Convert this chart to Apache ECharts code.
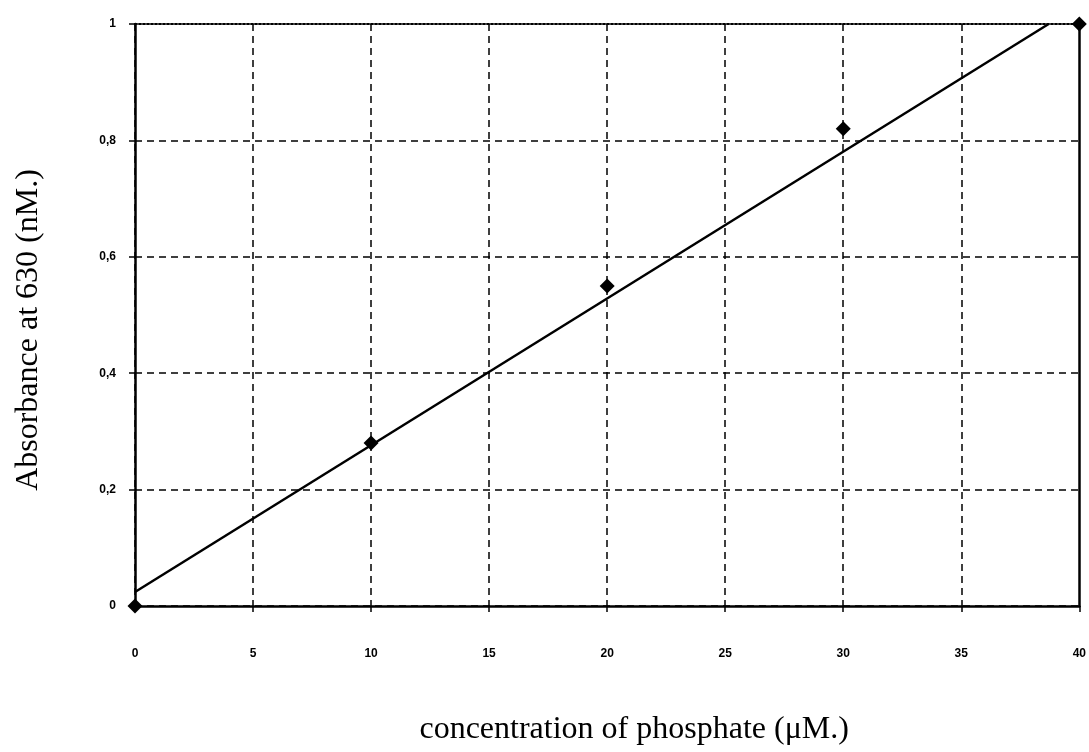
<!DOCTYPE html>
<html>
<head>
<meta charset="utf-8">
<script src="https://cdn.jsdelivr.net/npm/echarts@6/dist/echarts.min.js"></script>
<style>
  html, body { margin: 0; padding: 0; background: #fff; }
  #chart { width: 1089px; height: 752px; }
</style>
</head>
<body>
<div id="chart"></div>
<script>
// measured points
var concX = [0, 10, 20, 30, 40];
var absY = [0, 0.28, 0.55, 0.82, 1.0];
// trend line ends
var trendX = [0, 38.7];
var trendY = [0.024, 1.0];

var pts = concX.map(function (x, i) { return [x, absY[i]]; });
var trend = trendX.map(function (x, i) { return [x, trendY[i]]; });

var black = '#000';
var myChart = echarts.init(document.getElementById('chart'));
var option = {
  animation: false,
  grid: { left: 135, right: 9, top: 24, bottom: 146, containLabel: false },
  xAxis: [{
    type: 'value',
    min: 0, max: 40, interval: 5,
    name: 'concentration of phosphate (\u03bcM.)',
    nameLocation: 'middle',
    nameGap: 108,
    nameTextStyle: { fontFamily: 'Liberation Serif', fontSize: 32, color: black, padding: [0, 0, 0, 54] },
    axisLine: { show: true, onZero: false, lineStyle: { color: black, width: 2.5 } },
    axisTick: { show: true, length: 6, lineStyle: { color: black, width: 1.5 } },
    axisLabel: { margin: 42, fontFamily: 'Liberation Sans', fontWeight: 'bold', fontSize: 12, color: black },
    splitLine: { show: true, showMaxLine: false, lineStyle: { color: black, width: 1.5, type: [7, 5] } }
  }, {
    type: 'value',
    position: 'top',
    min: 0, max: 40,
    axisLine: { show: true, onZero: false, lineStyle: { color: black, width: 2, type: [2, 2] } },
    axisTick: { show: false },
    axisLabel: { show: false },
    splitLine: { show: false }
  }],
  yAxis: [{
    type: 'value',
    min: 0, max: 1, interval: 0.2,
    name: 'Absorbance at 630 (nM.)',
    nameLocation: 'middle',
    nameGap: 90,
    nameTextStyle: { fontFamily: 'Liberation Serif', fontSize: 32, color: black, padding: [0, 30, 0, 0] },
    axisLine: { show: true, lineStyle: { color: black, width: 2.5 } },
    axisTick: { show: true, length: 6, lineStyle: { color: black, width: 1.5 } },
    axisLabel: {
      margin: 19, fontFamily: 'Liberation Sans', fontWeight: 'bold', fontSize: 12, color: black,
      formatter: function (v) { return String(+v.toFixed(1)).replace('.', ','); }
    },
    splitLine: {
      show: true, showMaxLine: false,
      lineStyle: { color: black, width: 1.5, type: [7, 5] }
    }
  }, {
    type: 'value',
    position: 'right',
    min: 0, max: 1,
    axisLine: { show: true, onZero: false, lineStyle: { color: black, width: 2.5 } },
    axisTick: { show: false },
    axisLabel: { show: false },
    splitLine: { show: false }
  }],
  series: [{
    type: 'line',
    xAxisIndex: 1,
    yAxisIndex: 1,
    data: trend,
    symbol: 'none',
    lineStyle: { color: black, width: 2.5 },
    z: 3
  }, {
    type: 'scatter',
    xAxisIndex: 0,
    yAxisIndex: 0,
    data: pts,
    symbol: 'diamond',
    symbolSize: 15,
    itemStyle: { color: black, opacity: 1 },
    z: 4
  }]
};
myChart.setOption(option);
</script>
</body>
</html>
